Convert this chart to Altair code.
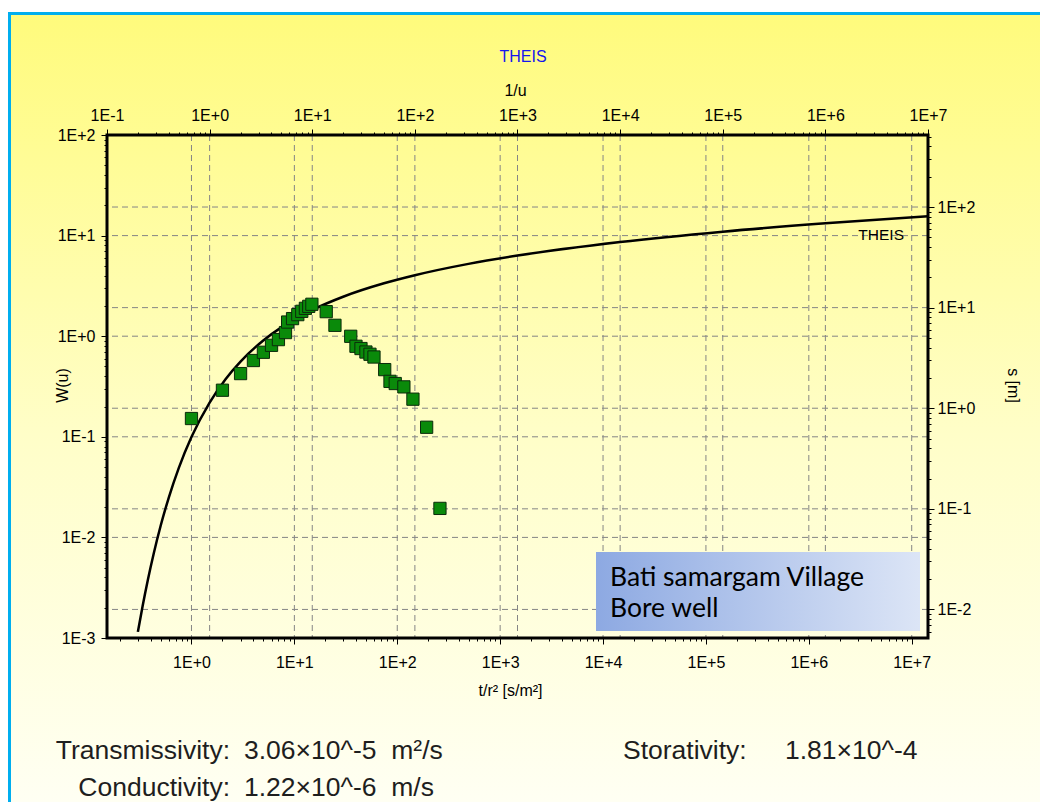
import altair as alt
import pandas as pd

# ---------------- data ----------------
# Theis type curve: 1/u (top axis) vs W(u) (left axis)
inv_u = [0.2, 0.2222, 0.25, 0.2857, 0.3333, 0.4, 0.5, 0.6667, 1.0, 1.4286, 2.0,
         3.333, 5.0, 6.667, 10.0, 20.0, 50.0, 100.0, 333.0, 1e3, 1e4, 1e5, 1e6, 1e7]
w_u = [0.00115, 0.00207, 0.00378, 0.00697, 0.01305, 0.0249, 0.0489, 0.100, 0.219,
       0.374, 0.560, 0.906, 1.223, 1.465, 1.823, 2.468, 3.355, 4.038, 5.235, 6.33,
       8.63, 10.94, 13.24, 15.54]

# observed drawdown: t/r^2 (bottom axis) vs s (right axis)
t_r2 = [1.0, 2.0, 3.0, 4.0, 5.0, 6.0, 7.0, 8.2, 8.6, 9.6, 10.8, 11.8, 12.8, 13.8,
        14.8, 20.4, 24.8, 35.3, 39.7, 44.4, 49.6, 54.3, 59.4, 75.5, 85.0, 95.6,
        116.0, 142.0, 193.0, 260.0]
s_m = [0.79, 1.51, 2.21, 2.98, 3.60, 4.22, 4.81, 5.65, 7.19, 7.78, 8.52, 9.19,
       9.84, 10.3, 10.8, 9.12, 6.67, 5.19, 4.13, 3.92, 3.62, 3.44, 3.23, 2.42,
       1.85, 1.76, 1.63, 1.23, 0.647, 0.101]

top_decades = [1e-1, 1e0, 1e1, 1e2, 1e3, 1e4, 1e5, 1e6, 1e7]
bottom_decades = [1e0, 1e1, 1e2, 1e3, 1e4, 1e5, 1e6, 1e7]
left_decades = [1e-3, 1e-2, 1e-1, 1e0, 1e1, 1e2]
right_decades = [1e-2, 1e-1, 1e0, 1e1, 1e2]

box_lines = ["Bati samargam Village", "Bore well"]
param_labels = ["Transmissivity:", "Conductivity:", "Storativity:"]
param_values = ["3.06×10^-5\u00a0\u00a0m²/s", "1.22×10^-6\u00a0\u00a0m/s", "1.81×10^-4"]

# ---------------- layout ----------------
W, H = 821, 503
FONT = "Liberation Sans Narrow, Arial Narrow, Liberation Sans, Arial, sans-serif"
FONT_BIG = "Liberation Sans, Arial, sans-serif"

X_TOP = alt.Scale(type="log", domain=[0.1, 1e7], nice=False)
Y_LEFT = alt.Scale(type="log", domain=[1e-3, 1e2], nice=False)
X_BOT = alt.Scale(type="log", domain=[0.151, 1.44e7], nice=False)
Y_RIGHT = alt.Scale(type="log", domain=[0.0052, 520], nice=False)


def minor_values(lo, hi):
    vals = []
    for e in range(-4, 9):
        for k in range(1, 10):
            v = k * 10.0 ** e
            if lo * 0.9999 <= v <= hi * 1.0001:
                vals.append(v)
    return vals


TEST = "abs(log(datum.value)/LN10 - round(log(datum.value)/LN10)) < 0.001"
LABEL_EXPR = ("(" + TEST + ") ? ('1E' + (round(log(datum.value)/LN10) >= 0 ? '+' : '') "
              "+ round(log(datum.value)/LN10)) : ''")


def make_axis(orient, title, values, label_pad, title_x, title_y, title_angle=0):
    return alt.Axis(
        orient=orient, title=title, values=values, labelExpr=LABEL_EXPR, zindex=1,
        grid=False, domain=False, ticks=True, tickColor="black", tickWidth=1,
        tickSize={"condition": {"test": TEST, "value": 6}, "value": 3},
        labelOverlap=False, labelFlush=False, labelBound=False,
        labelFont=FONT, labelFontSize=16, labelColor="black", labelPadding=label_pad,
        titleFont=FONT, titleFontSize=16, titleFontWeight="normal", titleColor="black",
        titleX=title_x, titleY=title_y, titleAngle=title_angle,
        titleAlign="center", titleBaseline="middle",
    )


one = pd.DataFrame({"a": [0]})

# background panel with gradient and blue border
bg = alt.Chart(one).mark_rect(
    fill=alt.Gradient(gradient="linear", x1=0, x2=0, y1=0, y2=1,
                      stops=[alt.GradientStop(offset=0, color="#FFFB7C"),
                             alt.GradientStop(offset=0.5, color="#FFFEC8"),
                             alt.GradientStop(offset=0.95, color="#FFFFF4"),
                             alt.GradientStop(offset=1, color="#FFFFF6")]),
    stroke="#00AEEF", strokeWidth=3,
).encode(x=alt.value(-97.5), x2=alt.value(1100), y=alt.value(-121.5), y2=alt.value(720))

GRID = dict(color="#858585", strokeDash=[6, 4], strokeWidth=1)

vg_top = alt.Chart(pd.DataFrame({"v": top_decades})).mark_rule(**GRID).encode(
    x=alt.X("v:Q", scale=X_TOP, axis=None))
vg_bot = alt.Chart(pd.DataFrame({"v": bottom_decades})).mark_rule(**GRID).encode(
    x=alt.X("v:Q", scale=X_BOT, axis=None))
hg_left = alt.Chart(pd.DataFrame({"v": left_decades})).mark_rule(**GRID).encode(
    y=alt.Y("v:Q", scale=Y_LEFT, axis=None))
hg_right = alt.Chart(pd.DataFrame({"v": right_decades})).mark_rule(**GRID).encode(
    y=alt.Y("v:Q", scale=Y_RIGHT, axis=None))

curve_df = pd.DataFrame({"inv_u": inv_u, "W": w_u})
curve = alt.Chart(curve_df).mark_line(color="black", strokeWidth=2.5, interpolate="monotone").encode(
    x=alt.X("inv_u:Q", scale=X_TOP,
            axis=make_axis("top", "1/u", minor_values(0.1, 1e7), 6, 408, -45)),
    y=alt.Y("W:Q", scale=Y_LEFT,
            axis=make_axis("left", "W(u)", minor_values(1e-3, 1e2), 6, -45, 250, -90)),
)

pts_df = pd.DataFrame({"t": t_r2, "s": s_m})
points = alt.Chart(pts_df).mark_square(size=150, fill="#0A8A0A", stroke="#0b2b0b",
                                       strokeWidth=1, opacity=1).encode(
    x=alt.X("t:Q", scale=X_BOT,
            axis=make_axis("bottom", "t/r² [s/m²]", minor_values(0.151, 1.44e7), 10, 403, 52)),
    y=alt.Y("s:Q", scale=Y_RIGHT,
            axis=make_axis("right", "s [m]", minor_values(0.0052, 520), 3, 84, 250, 90)),
)

frame = alt.Chart(one).mark_rect(fillOpacity=0, stroke="black", strokeWidth=3).encode(
    x=alt.value(0), x2=alt.value(W), y=alt.value(0), y2=alt.value(H))

curve_label = alt.Chart(one).mark_text(text="THEIS", font=FONT, fontSize=15.5, color="black",
                                       align="right", baseline="middle").encode(
    x=alt.value(797), y=alt.value(100))

title_txt = alt.Chart(one).mark_text(text="THEIS", font=FONT, fontSize=16, color="#1515EE",
                                     align="center", baseline="middle").encode(
    x=alt.value(416), y=alt.value(-78))

box = alt.Chart(one).mark_rect(
    fill=alt.Gradient(gradient="linear", x1=0, x2=1, y1=0, y2=0,
                      stops=[alt.GradientStop(offset=0, color="#8DA9E2"),
                             alt.GradientStop(offset=1, color="#DCE5F6")]),
).encode(x=alt.value(489), x2=alt.value(813), y=alt.value(417), y2=alt.value(496))

BOXF = dict(font="Lato, Open Sans, sans-serif", fontSize=26.5, color="black", align="left",
            baseline="alphabetic")
box_t1 = alt.Chart(one).mark_text(text=box_lines[0], **BOXF).encode(
    x=alt.value(503), y=alt.value(451))
box_t2 = alt.Chart(one).mark_text(text=box_lines[1], **BOXF).encode(
    x=alt.value(503), y=alt.value(482))

PT = dict(font=FONT_BIG, fontSize=26.5, color="#1e1e1e", baseline="alphabetic")
p1l = alt.Chart(one).mark_text(text=param_labels[0], align="right", **PT).encode(
    x=alt.value(123), y=alt.value(624))
p1v = alt.Chart(one).mark_text(text=param_values[0], align="left", **PT).encode(
    x=alt.value(137), y=alt.value(624))
p2l = alt.Chart(one).mark_text(text=param_labels[1], align="right", **PT).encode(
    x=alt.value(123), y=alt.value(661))
p2v = alt.Chart(one).mark_text(text=param_values[1], align="left", **PT).encode(
    x=alt.value(137), y=alt.value(661))
p3l = alt.Chart(one).mark_text(text=param_labels[2], align="left", **PT).encode(
    x=alt.value(516), y=alt.value(624))
p3v = alt.Chart(one).mark_text(text=param_values[2], align="left", **PT).encode(
    x=alt.value(678), y=alt.value(624))

chart = alt.layer(
    bg, vg_top, vg_bot, hg_left, hg_right, curve, points, frame, curve_label, title_txt,
    box, box_t1, box_t2, p1l, p1v, p2l, p2v, p3l, p3v,
).resolve_scale(x="independent", y="independent").properties(
    width=W, height=H,
    autosize=alt.AutoSizeParams(type="none"),
    padding={"left": 99, "top": 127, "right": 112, "bottom": 164},
    background="white",
).configure_view(stroke=None)

chart.save("out.html", embed_options={"renderer": "svg", "actions": False})
